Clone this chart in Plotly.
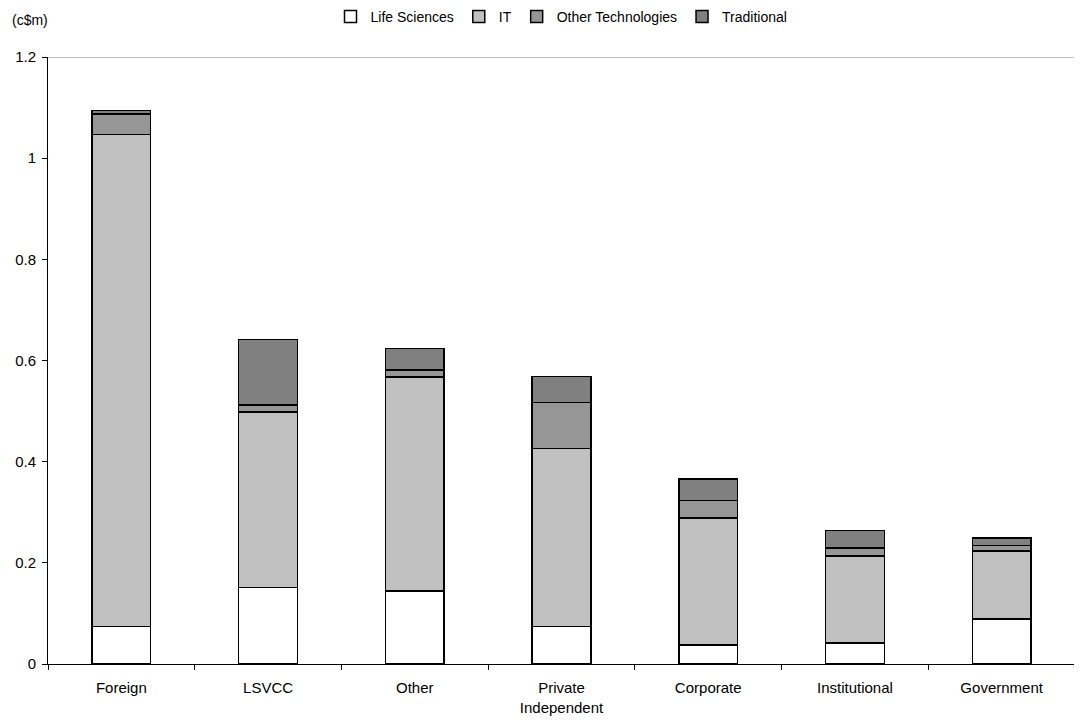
import plotly.graph_objects as go


# ==========================
# DATA
# ==========================

categories = ["Foreign", "LSVCC", "Other", "Private<br>Independent",
              "Corporate", "Institutional", "Government"]

life_sciences = [0.074, 0.151, 0.144, 0.074, 0.038, 0.042, 0.089]
it = [0.973, 0.347, 0.423, 0.352, 0.251, 0.172, 0.134]
other_tech = [0.040, 0.014, 0.014, 0.091, 0.034, 0.015, 0.011]
traditional = [0.007, 0.130, 0.043, 0.051, 0.043, 0.035, 0.015]

y_ticks = [0, 0.2, 0.4, 0.6, 0.8, 1, 1.2]


# ==========================
# CHART
# ==========================

series = [
    ("Life Sciences", life_sciences, "#ffffff"),
    ("IT", it, "#c0c0c0"),
    ("Other Technologies", other_tech, "#969696"),
    ("Traditional", traditional, "#808080"),
]

fig = go.Figure()

for name, values, colour in series:

    fig.add_trace(
        go.Bar(
            x=categories,
            y=values,
            name=name,
            marker=dict(color=colour, line=dict(color="#000000", width=1.5)),
        )
    )


# grey line along the top of the plot area
fig.add_shape(
    type="line",
    xref="paper",
    yref="y",
    x0=0,
    x1=1,
    y0=1.2,
    y1=1.2,
    line=dict(color="#808080", width=1),
)

fig.add_annotation(
    text="(c$m)",
    xref="paper",
    yref="paper",
    x=-0.037,
    y=1.061,
    xanchor="left",
    yanchor="middle",
    showarrow=False,
    font=dict(size=14, color="#000000"),
)

fig.update_layout(
    barmode="stack",
    bargap=0.6,
    width=1082,
    height=722,
    margin=dict(l=40, r=15, t=49, b=66, autoexpand=False),
    paper_bgcolor="#ffffff",
    plot_bgcolor="#ffffff",
    font=dict(family="Liberation Sans, Arial, sans-serif", size=15, color="#000000"),
    showlegend=True,
    legend=dict(
        orientation="h",
        traceorder="normal",
        x=0.5,
        xanchor="center",
        y=1.066,
        yanchor="middle",
        font=dict(size=14),
        itemwidth=30,
        tracegroupgap=0,
    ),
    xaxis=dict(
        showline=True,
        linecolor="#000000",
        linewidth=1,
        ticks="outside",
        tickson="boundaries",
        ticklen=5,
        tickcolor="#000000",
        ticklabelstandoff=10,
        showgrid=False,
        automargin=False,
    ),
    yaxis=dict(
        range=[0, 1.2],
        tickvals=y_ticks,
        showline=True,
        linecolor="#000000",
        linewidth=1,
        ticks="outside",
        ticklen=5,
        tickcolor="#000000",
        ticklabelstandoff=3,
        showgrid=False,
        zeroline=False,
        automargin=False,
    ),
)

fig.write_html("out.html")
